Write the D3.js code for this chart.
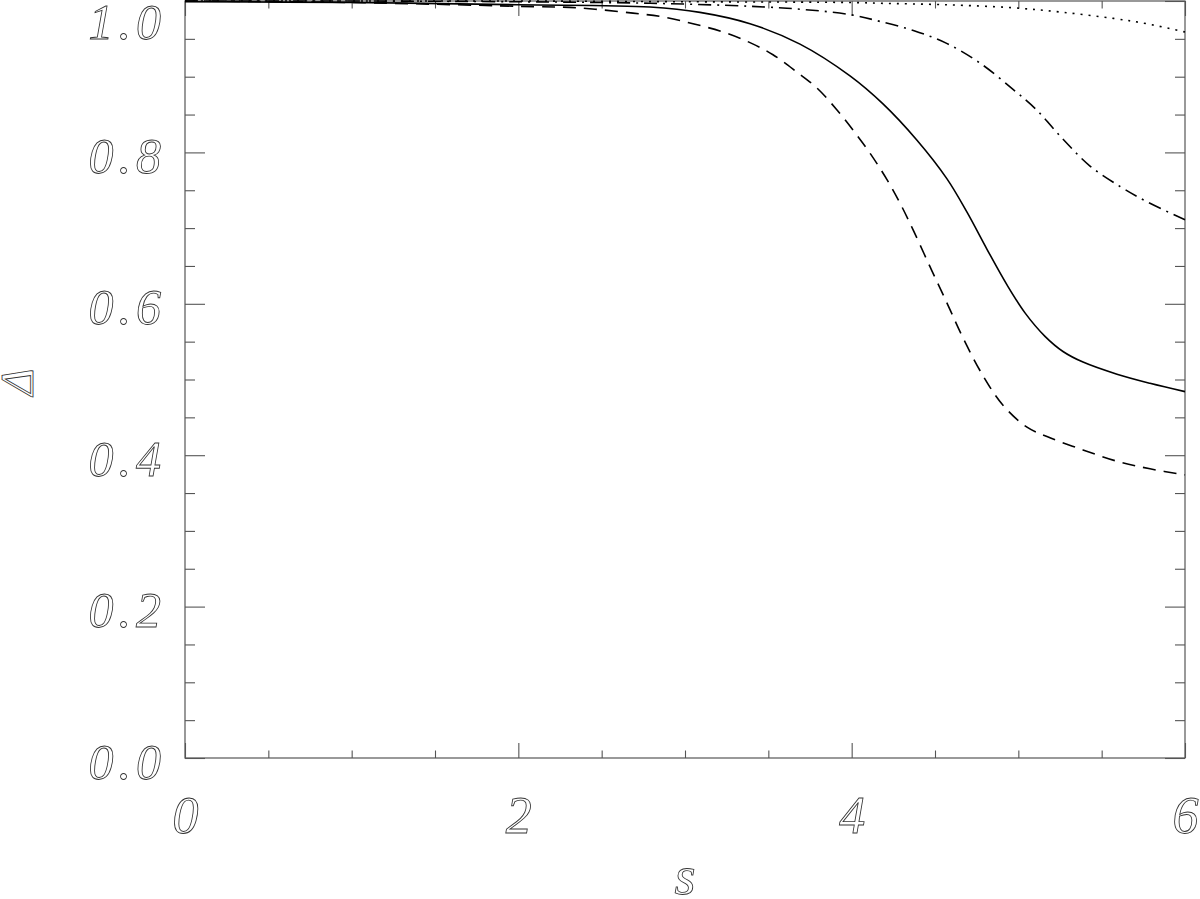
<!DOCTYPE html>
<html>
<head>
<meta charset="utf-8">
<script src="https://cdn.jsdelivr.net/npm/d3@7"></script>
<style>
  html, body { margin: 0; padding: 0; background: #fff; }
  svg { display: block; }
  .lbl { font-family: "Liberation Serif", "DejaVu Serif", serif; font-style: italic; fill: #fff; stroke: #333; stroke-width: 0.85px; }
</style>
</head>
<body>
<svg id="chart" width="1200" height="899"></svg>
<script>
// ---- data ----
const xTicksMajor = [0, 2, 4, 6];
const xTicksMinor = [0.5, 1, 1.5, 2.5, 3, 3.5, 4.5, 5, 5.5];
const yTicksMajor = [0.0, 0.2, 0.4, 0.6, 0.8, 1.0];
const yTicksMinor = [0.05, 0.1, 0.15, 0.25, 0.3, 0.35, 0.45, 0.5, 0.55, 0.65, 0.7, 0.75, 0.85, 0.9, 0.95];

const solidS = [0, 1, 2, 2.79, 3.09, 3.39, 3.69, 3.99, 4.188, 4.392, 4.572, 4.692, 4.812, 4.932, 5.04, 5.16, 5.268, 5.388, 5.592, 5.79, 6.0];
const solidV = [0.999, 0.998, 0.995, 0.992, 0.985, 0.970, 0.943, 0.901, 0.864, 0.816, 0.765, 0.721, 0.672, 0.625, 0.588, 0.557, 0.537, 0.523, 0.507, 0.495, 0.484];

const dashedS = [0, 1, 2, 2.352, 2.688, 2.868, 3.048, 3.228, 3.39, 3.528, 3.672, 3.792, 3.912, 4.02, 4.11, 4.212, 4.29, 4.368, 4.47, 4.572, 4.668, 4.788, 4.908, 5.052, 5.19, 5.388, 5.592, 5.79, 6.0];
const dashedV = [1.0, 0.998, 0.993, 0.991, 0.984, 0.979, 0.970, 0.959, 0.945, 0.929, 0.906, 0.885, 0.856, 0.826, 0.799, 0.764, 0.733, 0.698, 0.649, 0.601, 0.555, 0.505, 0.466, 0.437, 0.423, 0.407, 0.392, 0.382, 0.374];

const dashDotS = [0, 1, 2, 2.79, 3.39, 3.7, 3.99, 4.17, 4.37, 4.57, 4.77, 4.97, 5.11, 5.27, 5.43, 5.61, 5.77, 6.0];
const dashDotV = [1.0, 1.0, 0.999, 0.997, 0.993, 0.989, 0.982, 0.973, 0.961, 0.944, 0.918, 0.883, 0.856, 0.817, 0.782, 0.755, 0.735, 0.711];

const dottedS = [0, 1, 2, 3, 4, 4.17, 4.57, 4.97, 5.27, 5.57, 5.77, 6.0];
const dottedV = [1.0, 1.0, 1.0, 0.999, 0.998, 0.997, 0.995, 0.991, 0.985, 0.977, 0.970, 0.959];

const series = [
  { s: solidS,   v: solidV,   dash: null },
  { s: dashedS,  v: dashedV,  dash: "13,8" },
  { s: dashDotS, v: dashDotV, dash: "13,6,2,6" },
  { s: dottedS,  v: dottedV,  dash: "2,6" }
];

// ---- layout ----
const svg = d3.select("#chart");
const x = d3.scaleLinear().domain([0, 6]).range([185, 1185]);
const y = d3.scaleLinear().domain([0, 1]).range([758, 1]);
const axisColor = "#555";

// frame
svg.append("rect")
  .attr("x", x(0)).attr("y", y(1))
  .attr("width", x(6) - x(0)).attr("height", y(0) - y(1))
  .attr("fill", "none").attr("stroke", axisColor).attr("stroke-width", 1.2);

function styleAxis(g) {
  g.select(".domain").remove();
  g.selectAll(".tick line").attr("stroke", axisColor).attr("stroke-width", 1.1);
}

// bottom axis
svg.append("g").attr("transform", `translate(0,${y(0)})`)
  .call(d3.axisBottom(x).tickValues(xTicksMinor).tickSize(-7.5).tickFormat(""))
  .call(styleAxis);
const bx = svg.append("g").attr("transform", `translate(0,${y(0)})`)
  .call(d3.axisBottom(x).tickValues(xTicksMajor).tickSize(-15).tickFormat(d3.format("d")))
  .call(styleAxis);
bx.selectAll(".tick text")
  .attr("class", "lbl").attr("font-size", 52)
  .attr("y", 75).attr("dy", 0)
  .attr("font-family", null).attr("fill", null);

// top axis
svg.append("g").attr("transform", `translate(0,${y(1)})`)
  .call(d3.axisTop(x).tickValues(xTicksMinor).tickSize(-7.5).tickFormat(""))
  .call(styleAxis);
svg.append("g").attr("transform", `translate(0,${y(1)})`)
  .call(d3.axisTop(x).tickValues(xTicksMajor).tickSize(-15).tickFormat(""))
  .call(styleAxis);

// left axis
svg.append("g").attr("transform", `translate(${x(0)},0)`)
  .call(d3.axisLeft(y).tickValues(yTicksMinor).tickSize(-10).tickFormat(""))
  .call(styleAxis);
const ly = svg.append("g").attr("transform", `translate(${x(0)},0)`)
  .call(d3.axisLeft(y).tickValues(yTicksMajor).tickSize(-20).tickPadding(19).tickFormat(d3.format(".1f")))
  .call(styleAxis);
ly.selectAll(".tick text")
  .attr("class", "lbl").attr("font-size", 50)
  .attr("letter-spacing", 5)
  .attr("font-family", null).attr("fill", null)
  .attr("dy", d => d === 1 ? 37 : 20);

// right axis
svg.append("g").attr("transform", `translate(${x(6)},0)`)
  .call(d3.axisRight(y).tickValues(yTicksMinor).tickSize(-10).tickFormat(""))
  .call(styleAxis);
svg.append("g").attr("transform", `translate(${x(6)},0)`)
  .call(d3.axisRight(y).tickValues(yTicksMajor).tickSize(-20).tickFormat(""))
  .call(styleAxis);

// curves
const line = d3.line().curve(d3.curveCatmullRom.alpha(0.5)).x(d => x(d[0])).y(d => y(d[1]));
series.forEach(sr => {
  const pts = sr.s.map((s, i) => [s, sr.v[i]]);
  svg.append("path")
    .attr("d", line(pts))
    .attr("fill", "none")
    .attr("stroke", "#000")
    .attr("stroke-width", 1.6)
    .attr("stroke-dasharray", sr.dash);
});

// axis titles
svg.append("text").attr("class", "lbl")
  .attr("x", 685).attr("y", 894)
  .attr("text-anchor", "middle").attr("font-size", 54)
  .text("s");
svg.append("text").attr("class", "lbl")
  .attr("transform", "translate(33,382) rotate(-90)")
  .attr("text-anchor", "middle").attr("font-size", 46)
  .text("Δ");
</script>
</body>
</html>
